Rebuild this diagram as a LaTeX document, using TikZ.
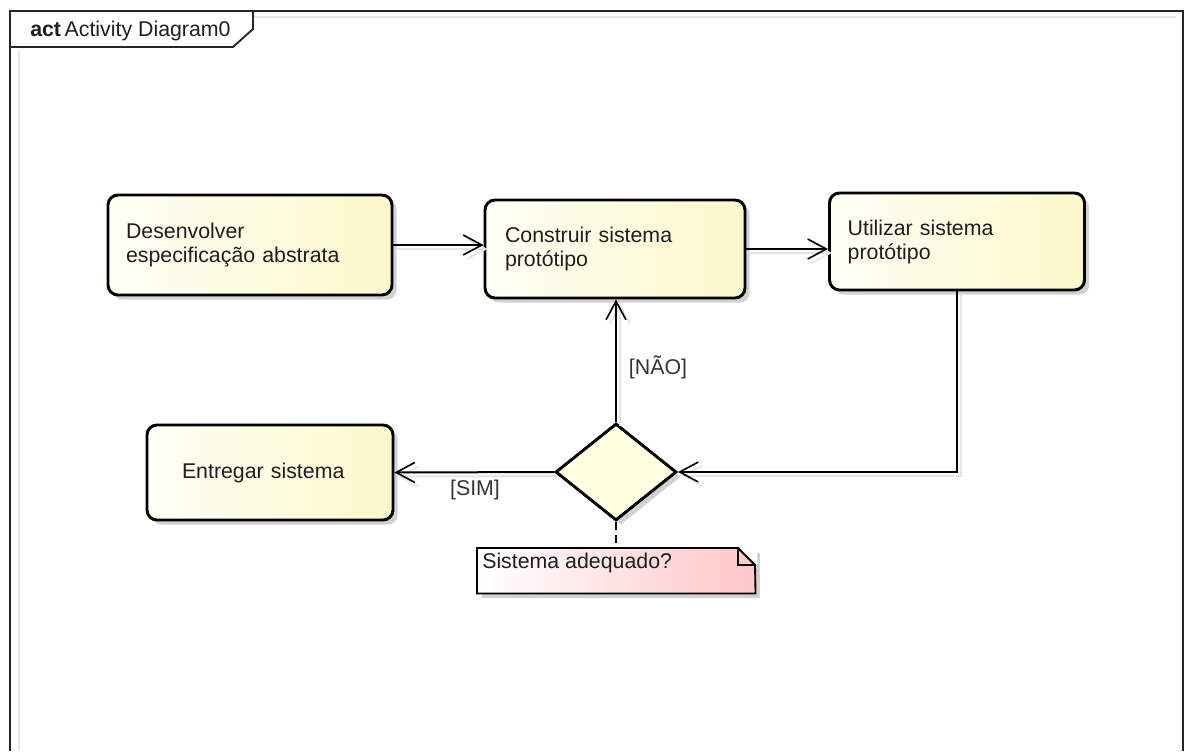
\documentclass[tikz,border=0pt]{standalone}
\usepackage{fontspec}
\setmainfont{Liberation Sans}
\usetikzlibrary{arrows.meta,shapes.geometric,shadows,calc}
\definecolor{boxL}{RGB}{255,255,246}
\definecolor{boxR}{RGB}{252,248,202}
\definecolor{decF}{RGB}{255,255,226}
\definecolor{noteR}{RGB}{255,198,200}
\definecolor{txt}{RGB}{30,30,30}
\begin{document}
\begin{tikzpicture}[x=0.75pt,y=-0.75pt,
  every node/.style={font=\fontsize{16}{18}\selectfont, text=txt},
  actbox/.style={draw, line width=2.2pt, rounded corners=7.5pt,
    left color=boxL, right color=boxR, inner ysep=0pt, align=left,
    drop shadow={shadow xshift=3.5pt, shadow yshift=-3.5pt, fill=black!35, opacity=0.5}},
  decision/.style={diamond, draw, line width=2.2pt, fill=decF, inner sep=0pt,
    minimum width=121*0.75pt, minimum height=97*0.75pt,
    drop shadow={shadow xshift=3.5pt, shadow yshift=-3.5pt, fill=black!35, opacity=0.5}},
  flow/.style={line width=1.5pt, -{Straight Barb[length=14pt,width=15pt,line width=1.2pt]},
    preaction={draw=black!10, line width=1.5pt, transform canvas={xshift=3pt,yshift=-3pt}}},
  guard/.style={text=black!80},
  framepen/.style={line width=1.4pt, draw=black!85}
]
\useasboundingbox (0,0) rectangle (1185,751);
\fill[white] (0,0) rectangle (1185,751);

% frame
\draw[black!10, line width=2pt] (19,751) -- (19,51);
\draw[black!10, line width=2pt] (253,17) -- (1176,17);
\draw[framepen] (10,751) -- (10,11) -- (1183,11) -- (1183,751);
\draw[framepen] (10,47) -- (233,47) -- (253,29) -- (253,11);
\node[anchor=base west, inner sep=0pt] (title) at (30,36) {\textbf{act}\,Activity Diagram0};

% activities
\node[actbox, minimum width=284*0.75pt, minimum height=100*0.75pt,
  inner xsep=13.5pt, text width=186pt] (b1) at (250,245)
  {Desenvolver\\especificação abstrata};
\node[actbox, minimum width=260*0.75pt, minimum height=98*0.75pt,
  inner xsep=15pt, text width=165pt] (b2) at (615,249)
  {Construir sistema\\protótipo};
\node[actbox, minimum width=255*0.75pt, minimum height=97*0.75pt,
  inner xsep=13.5pt, text width=164pt] (b3) at (957,241.5)
  {Utilizar sistema\\protótipo};
\node[actbox, minimum width=246*0.75pt, minimum height=95*0.75pt,
  inner xsep=26pt, text width=132pt] (b4) at (270,472.5)
  {Entregar sistema};

% decision
\node[decision] (dec) at (616,472) {};

% note
\coordinate (nNW) at (477,548);
\coordinate (nSE) at (755,593);
\node[anchor=north west, inner sep=0pt, minimum width=278*0.75pt, minimum height=45*0.75pt,
  left color=white, right color=noteR,
  drop shadow={shadow xshift=3.5pt, shadow yshift=-3.5pt, fill=black!35, opacity=0.5}]
  (note) at (nNW) {};
\fill[white] (738,546) -- (757,546) -- (757,565) -- cycle;
\draw[line width=1.4pt] (note.north west) -- (738,548) -- (755,565) -- (note.south east)
  -- (note.south west) -- cycle;
\draw[line width=1.2pt] (738,548) -- (738,565) -- (755,565);
\node[anchor=west, inner sep=0pt] (notetext) at (482,563) {Sistema adequado?};

% connectors
\draw[flow] (b1.east) -- (b1.east -| b2.west);
\draw[flow] (b2.east) -- (b2.east -| b3.west);
\draw[flow] (b3.south) |- (dec.east);
\draw[flow] (dec.north) -- (dec.north |- b2.south);
\draw[flow] (dec.west) -- (b4.east);
\draw[line width=1.5pt, dashed, dash pattern=on 6pt off 4pt] (dec.south) -- (dec.south |- note.north);

% guards
\node[guard] (gNao) at (658,367) {[NÃO]};
\node[guard] (gSim) at (475,490) {[SIM]};
\end{tikzpicture}
\end{document}
